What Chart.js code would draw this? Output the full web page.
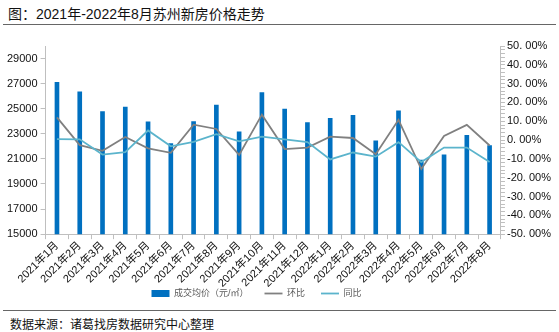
<!DOCTYPE html>
<html>
<head>
<meta charset="utf-8">
<script src="https://cdn.jsdelivr.net/npm/chart.js@4/dist/chart.umd.min.js"></script>
<style>
  body { margin: 0; background: #fff; font-family: "Liberation Sans", "Noto Sans CJK SC", sans-serif; }
  #wrap { position: relative; width: 559px; height: 332px; overflow: hidden; }
  #title { position: absolute; left: 8px; top: 3px; font-size: 14px; color: #111; }
  .rule { position: absolute; left: 3px; width: 553px; height: 0; border-top: 1.5px solid #666; }
  #source { position: absolute; left: 10px; top: 315px; font-size: 12px; color: #111; }
  #box { position: absolute; left: 0; top: 28px; width: 559px; height: 280px; }
</style>
</head>
<body>
<div id="wrap">
  <div id="title">图：2021年-2022年8月苏州新房价格走势</div>
  <div class="rule" style="top:24px"></div>
  <div id="box"><canvas id="myChart"></canvas></div>
  <div class="rule" style="top:310px"></div>
  <div id="source">数据来源：诸葛找房数据研究中心整理</div>
</div>
<script>
var months = ['2021年1月', '2021年2月', '2021年3月', '2021年4月', '2021年5月', '2021年6月', '2021年7月',
  '2021年8月', '2021年9月', '2021年10月', '2021年11月', '2021年12月', '2022年1月', '2022年2月',
  '2022年3月', '2022年4月', '2022年5月', '2022年6月', '2022年7月', '2022年8月'];
var avgPrice = [27100, 26340, 24780, 25130, 23950, 22220, 23980, 25300, 23150, 26280,
  24970, 23900, 24230, 24470, 22440, 24830, 20900, 21320, 22880, 22060];
var momChange = [12.1, -2.7, -5.7, 1.6, -4.4, -6.8, 8.2, 5.9, -7.9, 13.5,
  -4.8, -4.0, 1.8, 1.1, -7.5, 10.8, -15.4, 2.2, 8.1, -2.9];
var yoyChange = [0.5, 0.4, -7.7, -6.4, 5.1, -3.3, -0.9, 3.1, -0.7, 1.8,
  0.4, -1.1, -10.3, -6.6, -8.8, -1.1, -11.7, -4.0, -4.0, -11.7];
var priceTicks = [15000, 17000, 19000, 21000, 23000, 25000, 27000, 29000];

var pctTicks = [];
for (var p = -50; p <= 50; p += 2) pctTicks.push(p);

var font = { family: '"Liberation Sans", "Noto Sans CJK SC", sans-serif', size: 11 };
var axisGray = '#bfbfbf';
var legendTrim = 17;

// the legend in the original sits tight under the month labels:
// report a shorter legend box so the plot gets that room, then draw it where it was
var legendTweak = {
  id: 'legendTweak',
  afterInit: function(chart) {
    var legend = chart.legend;
    var fit = legend.fit;
    legend.fit = function() {
      fit.call(this);
      this.height -= legendTrim;
    };
  },
  afterLayout: function(chart) {
    chart.legend.top -= legendTrim;
    chart.legend.left -= 22;
    chart.legend.right -= 22;
  }
};

var ctx = document.getElementById('myChart').getContext('2d');
var chart = new Chart(ctx, {
  data: {
    labels: months,
    datasets: [{
      type: 'bar',
      label: '成交均价（元/㎡）',
      data: avgPrice,
      backgroundColor: '#0070c0',
      borderWidth: 0,
      barThickness: 4,
      yAxisID: 'y',
      pointStyle: 'rect',
      order: 2
    }, {
      type: 'line',
      label: '环比',
      data: momChange,
      borderColor: '#808080',
      backgroundColor: '#808080',
      borderWidth: 1.8,
      pointRadius: 0,
      pointStyle: 'line',
      tension: 0,
      yAxisID: 'y1',
      order: 1
    }, {
      type: 'line',
      label: '同比',
      data: yoyChange,
      borderColor: '#5bb4cc',
      backgroundColor: '#5bb4cc',
      borderWidth: 1.8,
      pointRadius: 0,
      pointStyle: 'line',
      tension: 0,
      yAxisID: 'y1',
      order: 0
    }]
  },
  plugins: [legendTweak],
  options: {
    responsive: true,
    maintainAspectRatio: false,
    animation: false,
    layout: { padding: { left: 4, right: 6, top: 18, bottom: 0 } },
    plugins: {
      tooltip: { enabled: false },
      legend: {
        position: 'bottom',
        labels: {
          usePointStyle: true,
          pointStyleWidth: 18,
          boxHeight: 7,
          padding: 16,
          color: '#595959',
          font: { family: font.family, size: 9 },
          sort: function(a, b) { return a.datasetIndex - b.datasetIndex; }
        }
      }
    },
    scales: {
      x: {
        grid: { offset: true, drawOnChartArea: false, tickLength: 5, color: axisGray },
        border: { color: axisGray },
        ticks: { maxRotation: 45, minRotation: 45, autoSkip: false, color: '#111', font: font, padding: 0 }
      },
      y: {
        position: 'left',
        min: 15000,
        max: 30000,
        afterBuildTicks: function(scale) {
          scale.ticks = priceTicks.map(function(v) { return { value: v }; });
        },
        grid: { drawOnChartArea: false, tickLength: 5, color: axisGray },
        border: { color: axisGray },
        ticks: {
          color: '#111',
          font: font,
          padding: 3,
          callback: function(v) { return String(v); }
        }
      },
      y1: {
        position: 'right',
        min: -50,
        max: 50,
        afterBuildTicks: function(scale) {
          scale.ticks = pctTicks.map(function(v) { return { value: v }; });
        },
        grid: { drawOnChartArea: false, tickLength: 4, color: axisGray },
        border: { color: axisGray },
        ticks: {
          autoSkip: false,
          color: '#111',
          font: font,
          padding: 2,
          callback: function(v) {
            if (v % 10 !== 0) return '';
            return v.toFixed(2).replace('.', '. ') + '%';
          }
        }
      }
    }
  }
});
</script>
</body>
</html>
